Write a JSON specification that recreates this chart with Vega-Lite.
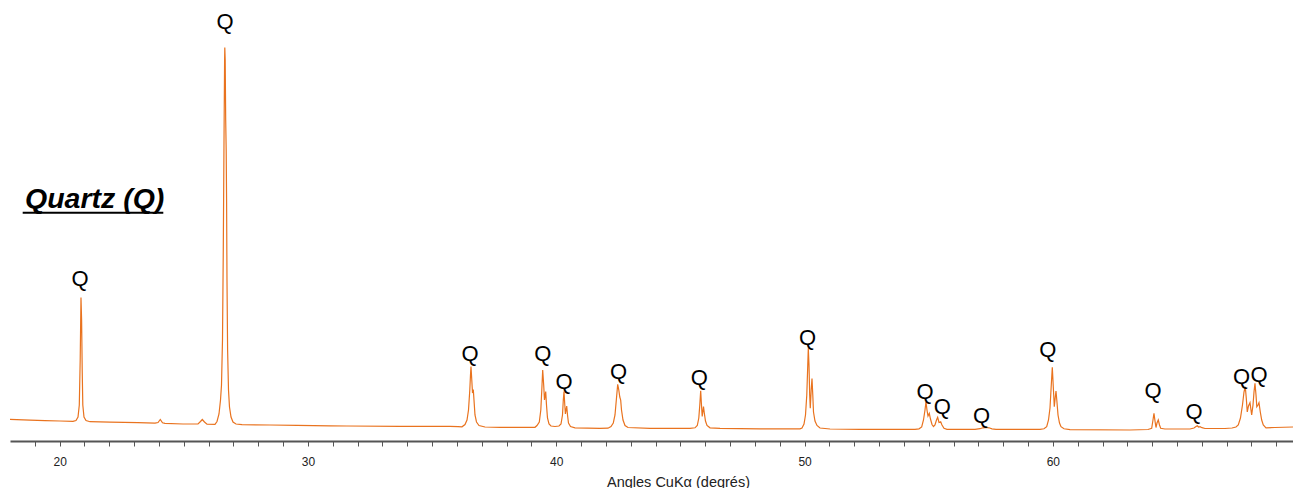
{
  "$schema": "https://vega.github.io/schema/vega-lite/v6.json",
  "width": 1283,
  "height": 441,
  "autosize": "none",
  "padding": {"left": 10, "top": 0, "right": 0, "bottom": 47},
  "background": "white",
  "config": {"view": {"stroke": null}, "font": "Liberation Sans"},
  "datasets": {
    "pattern": [
      {"angle": 18.000, "intensity": 21.7}, {"angle": 18.805, "intensity": 20.8}, {"angle": 19.410, "intensity": 20.3}, {"angle": 20.014, "intensity": 20.0},
      {"angle": 20.537, "intensity": 19.7}, {"angle": 20.658, "intensity": 20.5}, {"angle": 20.739, "intensity": 24.0}, {"angle": 20.791, "intensity": 36.0},
      {"angle": 20.827, "intensity": 81.0}, {"angle": 20.859, "intensity": 143.5}, {"angle": 20.884, "intensity": 121.0}, {"angle": 20.908, "intensity": 71.0},
      {"angle": 20.932, "intensity": 36.0}, {"angle": 20.980, "intensity": 24.0}, {"angle": 21.061, "intensity": 20.5}, {"angle": 21.222, "intensity": 19.3},
      {"angle": 22.027, "intensity": 18.8}, {"angle": 23.155, "intensity": 18.3}, {"angle": 23.840, "intensity": 17.8}, {"angle": 23.961, "intensity": 18.5},
      {"angle": 24.053, "intensity": 21.5}, {"angle": 24.142, "intensity": 18.2}, {"angle": 24.242, "intensity": 17.6}, {"angle": 24.967, "intensity": 17.0},
      {"angle": 25.572, "intensity": 17.0}, {"angle": 25.672, "intensity": 19.5}, {"angle": 25.745, "intensity": 21.5}, {"angle": 25.833, "intensity": 19.0},
      {"angle": 25.934, "intensity": 16.8}, {"angle": 26.256, "intensity": 16.6}, {"angle": 26.337, "intensity": 19.5}, {"angle": 26.417, "intensity": 27.0},
      {"angle": 26.478, "intensity": 41.0}, {"angle": 26.518, "intensity": 56.0}, {"angle": 26.558, "intensity": 101.0}, {"angle": 26.590, "intensity": 191.0},
      {"angle": 26.619, "intensity": 301.0}, {"angle": 26.643, "intensity": 381.0}, {"angle": 26.651, "intensity": 393.5}, {"angle": 26.667, "intensity": 381.0},
      {"angle": 26.687, "intensity": 321.0}, {"angle": 26.707, "intensity": 291.0}, {"angle": 26.723, "intensity": 241.0}, {"angle": 26.739, "intensity": 161.0},
      {"angle": 26.764, "intensity": 91.0}, {"angle": 26.800, "intensity": 51.0}, {"angle": 26.840, "intensity": 34.0}, {"angle": 26.901, "intensity": 24.0},
      {"angle": 26.981, "intensity": 19.0}, {"angle": 27.102, "intensity": 17.0}, {"angle": 27.344, "intensity": 16.3}, {"angle": 28.471, "intensity": 16.0},
      {"angle": 29.559, "intensity": 15.7}, {"angle": 30.888, "intensity": 15.2}, {"angle": 31.572, "intensity": 15.0}, {"angle": 33.707, "intensity": 14.7},
      {"angle": 35.721, "intensity": 14.7}, {"angle": 36.043, "intensity": 14.4}, {"angle": 36.204, "intensity": 14.2}, {"angle": 36.325, "intensity": 16.5},
      {"angle": 36.405, "intensity": 21.0}, {"angle": 36.466, "intensity": 31.0}, {"angle": 36.518, "intensity": 51.0}, {"angle": 36.546, "intensity": 66.0},
      {"angle": 36.566, "intensity": 74.5}, {"angle": 36.598, "intensity": 61.0}, {"angle": 36.627, "intensity": 48.0}, {"angle": 36.659, "intensity": 51.5},
      {"angle": 36.687, "intensity": 41.0}, {"angle": 36.727, "intensity": 26.0}, {"angle": 36.788, "intensity": 19.0}, {"angle": 36.889, "intensity": 15.5},
      {"angle": 37.130, "intensity": 14.0}, {"angle": 37.734, "intensity": 13.7}, {"angle": 39.144, "intensity": 13.7}, {"angle": 39.224, "intensity": 15.5},
      {"angle": 39.317, "intensity": 19.0}, {"angle": 39.378, "intensity": 31.0}, {"angle": 39.418, "intensity": 51.0}, {"angle": 39.454, "intensity": 71.0},
      {"angle": 39.494, "intensity": 56.0}, {"angle": 39.526, "intensity": 41.0}, {"angle": 39.575, "intensity": 49.5}, {"angle": 39.607, "intensity": 36.0},
      {"angle": 39.647, "intensity": 23.0}, {"angle": 39.708, "intensity": 17.0}, {"angle": 39.788, "intensity": 15.0}, {"angle": 39.949, "intensity": 14.5},
      {"angle": 40.110, "intensity": 15.0}, {"angle": 40.191, "intensity": 17.0}, {"angle": 40.251, "intensity": 26.0}, {"angle": 40.284, "intensity": 41.0},
      {"angle": 40.312, "intensity": 49.5}, {"angle": 40.344, "intensity": 36.0}, {"angle": 40.368, "intensity": 27.0}, {"angle": 40.421, "intensity": 35.0},
      {"angle": 40.453, "intensity": 26.0}, {"angle": 40.493, "intensity": 18.0}, {"angle": 40.574, "intensity": 14.5}, {"angle": 40.755, "intensity": 13.2},
      {"angle": 41.762, "intensity": 12.7}, {"angle": 42.084, "intensity": 12.8}, {"angle": 42.205, "intensity": 14.5}, {"angle": 42.297, "intensity": 18.0},
      {"angle": 42.366, "intensity": 26.0}, {"angle": 42.426, "intensity": 43.0}, {"angle": 42.475, "intensity": 56.7}, {"angle": 42.519, "intensity": 51.0},
      {"angle": 42.559, "intensity": 44.0}, {"angle": 42.595, "intensity": 41.0}, {"angle": 42.628, "intensity": 31.0}, {"angle": 42.688, "intensity": 21.0},
      {"angle": 42.769, "intensity": 15.5}, {"angle": 42.889, "intensity": 13.5}, {"angle": 43.775, "intensity": 12.7}, {"angle": 45.386, "intensity": 12.6},
      {"angle": 45.588, "intensity": 13.2}, {"angle": 45.680, "intensity": 15.5}, {"angle": 45.741, "intensity": 23.0}, {"angle": 45.781, "intensity": 36.0},
      {"angle": 45.817, "intensity": 50.3}, {"angle": 45.849, "intensity": 36.0}, {"angle": 45.878, "intensity": 24.5}, {"angle": 45.930, "intensity": 34.3},
      {"angle": 45.962, "intensity": 28.0}, {"angle": 46.010, "intensity": 20.0}, {"angle": 46.071, "intensity": 15.5}, {"angle": 46.192, "intensity": 13.2},
      {"angle": 46.595, "intensity": 12.7}, {"angle": 48.206, "intensity": 12.2}, {"angle": 49.816, "intensity": 12.2}, {"angle": 49.897, "intensity": 13.0},
      {"angle": 49.978, "intensity": 17.0}, {"angle": 50.038, "intensity": 26.0}, {"angle": 50.090, "intensity": 46.0}, {"angle": 50.123, "intensity": 71.0},
      {"angle": 50.151, "intensity": 92.7}, {"angle": 50.179, "intensity": 76.0}, {"angle": 50.207, "intensity": 46.0}, {"angle": 50.231, "intensity": 32.7},
      {"angle": 50.267, "intensity": 51.0}, {"angle": 50.300, "intensity": 62.5}, {"angle": 50.332, "intensity": 46.0}, {"angle": 50.360, "intensity": 29.0},
      {"angle": 50.420, "intensity": 20.0}, {"angle": 50.501, "intensity": 15.5}, {"angle": 50.622, "intensity": 13.0}, {"angle": 51.025, "intensity": 12.0},
      {"angle": 52.233, "intensity": 11.7}, {"angle": 54.448, "intensity": 11.7}, {"angle": 54.609, "intensity": 12.2}, {"angle": 54.718, "intensity": 14.0},
      {"angle": 54.790, "intensity": 21.0}, {"angle": 54.851, "intensity": 31.0}, {"angle": 54.891, "intensity": 39.3}, {"angle": 54.931, "intensity": 31.0},
      {"angle": 54.972, "intensity": 25.0}, {"angle": 55.024, "intensity": 27.7}, {"angle": 55.072, "intensity": 22.0}, {"angle": 55.133, "intensity": 16.5},
      {"angle": 55.193, "intensity": 14.5}, {"angle": 55.253, "intensity": 16.0}, {"angle": 55.314, "intensity": 21.0}, {"angle": 55.361, "intensity": 23.7},
      {"angle": 55.415, "intensity": 18.5}, {"angle": 55.483, "intensity": 19.3}, {"angle": 55.535, "intensity": 16.0}, {"angle": 55.616, "intensity": 12.7},
      {"angle": 55.737, "intensity": 11.7}, {"angle": 56.864, "intensity": 11.7}, {"angle": 57.066, "intensity": 12.3}, {"angle": 57.186, "intensity": 13.2},
      {"angle": 57.307, "intensity": 13.7}, {"angle": 57.428, "intensity": 13.2}, {"angle": 57.549, "intensity": 12.2}, {"angle": 57.710, "intensity": 11.7},
      {"angle": 59.482, "intensity": 11.7}, {"angle": 59.643, "intensity": 12.2}, {"angle": 59.752, "intensity": 14.3}, {"angle": 59.825, "intensity": 21.0},
      {"angle": 59.885, "intensity": 33.0}, {"angle": 59.937, "intensity": 56.0}, {"angle": 59.978, "intensity": 73.7}, {"angle": 60.014, "intensity": 56.0},
      {"angle": 60.058, "intensity": 34.3}, {"angle": 60.094, "intensity": 43.0}, {"angle": 60.127, "intensity": 50.0}, {"angle": 60.159, "intensity": 41.0},
      {"angle": 60.208, "intensity": 26.0}, {"angle": 60.268, "intensity": 18.0}, {"angle": 60.328, "intensity": 14.3}, {"angle": 60.449, "intensity": 12.2},
      {"angle": 60.690, "intensity": 11.3}, {"angle": 63.107, "intensity": 11.0}, {"angle": 63.832, "intensity": 11.5}, {"angle": 63.981, "intensity": 12.7},
      {"angle": 64.033, "intensity": 21.0}, {"angle": 64.073, "intensity": 27.7}, {"angle": 64.114, "intensity": 20.0}, {"angle": 64.154, "intensity": 13.5},
      {"angle": 64.194, "intensity": 18.0}, {"angle": 64.246, "intensity": 21.0}, {"angle": 64.295, "intensity": 16.0}, {"angle": 64.343, "intensity": 12.7},
      {"angle": 64.514, "intensity": 12.0}, {"angle": 65.523, "intensity": 12.0}, {"angle": 65.684, "intensity": 13.0}, {"angle": 65.765, "intensity": 14.5},
      {"angle": 65.817, "intensity": 15.3}, {"angle": 65.870, "intensity": 14.0}, {"angle": 65.926, "intensity": 14.3}, {"angle": 66.007, "intensity": 13.3},
      {"angle": 66.127, "intensity": 12.5}, {"angle": 66.933, "intensity": 12.5}, {"angle": 67.215, "intensity": 13.0}, {"angle": 67.375, "intensity": 14.0},
      {"angle": 67.468, "intensity": 16.0}, {"angle": 67.556, "intensity": 23.0}, {"angle": 67.637, "intensity": 36.0}, {"angle": 67.698, "intensity": 49.0},
      {"angle": 67.750, "intensity": 54.3}, {"angle": 67.790, "intensity": 43.0}, {"angle": 67.830, "intensity": 29.0}, {"angle": 67.879, "intensity": 35.0},
      {"angle": 67.940, "intensity": 38.3}, {"angle": 67.980, "intensity": 31.0}, {"angle": 68.008, "intensity": 26.0}, {"angle": 68.061, "intensity": 36.0},
      {"angle": 68.101, "intensity": 49.0}, {"angle": 68.141, "intensity": 57.7}, {"angle": 68.182, "intensity": 46.0}, {"angle": 68.214, "intensity": 34.3},
      {"angle": 68.262, "intensity": 36.0}, {"angle": 68.302, "intensity": 38.3}, {"angle": 68.355, "intensity": 29.0}, {"angle": 68.411, "intensity": 21.0},
      {"angle": 68.475, "intensity": 16.0}, {"angle": 68.584, "intensity": 13.2}, {"angle": 68.947, "intensity": 13.5}, {"angle": 69.672, "intensity": 14.0}
    ],
    "labels": [
      {"angle": 20.819, "intensity": 162, "label": "Q"},
      {"angle": 26.659, "intensity": 419, "label": "Q"},
      {"angle": 36.526, "intensity": 87.5, "label": "Q"},
      {"angle": 39.454, "intensity": 87.5, "label": "Q"},
      {"angle": 40.312, "intensity": 59, "label": "Q"},
      {"angle": 42.507, "intensity": 69, "label": "Q"},
      {"angle": 45.761, "intensity": 62.7, "label": "Q"},
      {"angle": 50.119, "intensity": 103.5, "label": "Q"},
      {"angle": 54.851, "intensity": 49.5, "label": "Q"},
      {"angle": 55.547, "intensity": 34, "label": "Q"},
      {"angle": 57.126, "intensity": 25, "label": "Q"},
      {"angle": 59.796, "intensity": 91, "label": "Q"},
      {"angle": 64.033, "intensity": 50.5, "label": "Q"},
      {"angle": 65.684, "intensity": 28.7, "label": "Q"},
      {"angle": 67.597, "intensity": 64.5, "label": "Q"},
      {"angle": 68.302, "intensity": 66, "label": "Q"}
    ],
    "annotation": [
      {"text": "Quartz (Q)", "angle": 18.604, "intensity": 242, "underline_start": 18.511, "underline_end": 24.174, "underline_level": 228.3}
    ]
  },
  "layer": [
    {
      "data": {"name": "pattern"},
      "mark": {"type": "line", "color": "#E9731F", "strokeWidth": 1.2, "interpolate": "linear"},
      "encoding": {
        "x": {
          "field": "angle", "type": "quantitative",
          "scale": {"domain": [18, 69.672], "nice": false, "zero": false},
          "axis": {
            "values": [19,20,21,22,23,24,25,26,27,28,29,30,31,32,33,34,35,36,37,38,39,40,41,42,43,44,45,46,47,48,49,50,51,52,53,54,55,56,57,58,59,60,61,62,63,64,65,66,67,68,69],
            "tickCount": 200,
            "format": "d",
            "labelExpr": "datum.value % 10 === 0 ? datum.label : ''",
            "tickSize": 5,
            "encode": {"ticks": {"update": {"y2": {"signal": "datum.value % 10 === 0 ? 11 : 5"}}}},
            "labelOverlap": false, "labelFlush": false, "labelBound": false,
            "grid": false,
            "domainColor": "#555555", "domainWidth": 2,
            "tickColor": "#555555", "tickWidth": 1,
            "labelFont": "Liberation Sans", "labelFontSize": 12, "labelColor": "#222222", "labelPadding": 10,
            "title": "Angles CuKα (degrés)",
            "titleFont": "Liberation Sans", "titleFontSize": 14.5, "titleFontWeight": "normal", "titleColor": "#222222",
            "titleX": 668, "titleY": 41, "titleBaseline": "middle", "titleAlign": "center"
          }
        },
        "y": {
          "field": "intensity", "type": "quantitative",
          "scale": {"domain": [0, 441], "nice": false, "zero": true},
          "axis": null
        }
      }
    },
    {
      "data": {"name": "labels"},
      "mark": {"type": "text", "font": "Liberation Sans", "fontSize": 22, "align": "center", "baseline": "middle", "color": "black"},
      "encoding": {
        "x": {"field": "angle", "type": "quantitative"},
        "y": {"field": "intensity", "type": "quantitative"},
        "text": {"field": "label"}
      }
    },
    {
      "data": {"name": "annotation"},
      "mark": {"type": "text", "font": "Liberation Sans", "fontSize": 28.5, "fontWeight": "bold", "fontStyle": "italic", "align": "left", "baseline": "middle", "color": "black"},
      "encoding": {
        "x": {"field": "angle", "type": "quantitative"},
        "y": {"field": "intensity", "type": "quantitative"},
        "text": {"field": "text"}
      }
    },
    {
      "data": {"name": "annotation"},
      "mark": {"type": "rule", "strokeWidth": 2, "color": "black"},
      "encoding": {
        "x": {"field": "underline_start", "type": "quantitative"},
        "x2": {"field": "underline_end"},
        "y": {"field": "underline_level", "type": "quantitative"}
      }
    }
  ]
}
